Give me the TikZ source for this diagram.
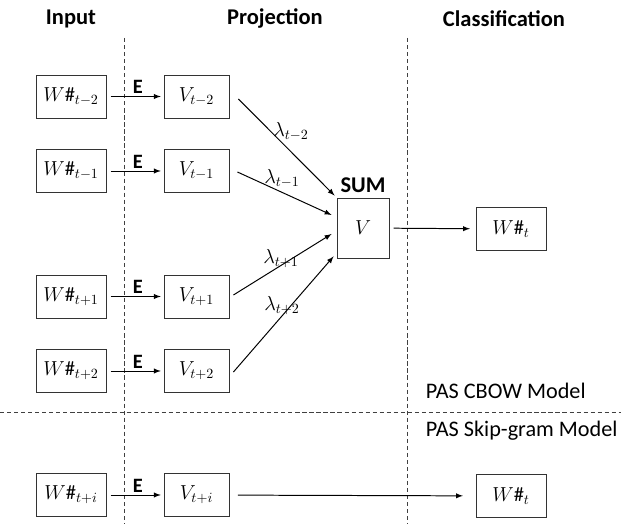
\documentclass[tikz,border=0pt]{standalone}
\usepackage{fontspec}
\setmainfont{Carlito}
\usetikzlibrary{arrows,calc,positioning}

\tikzset{
  box/.style={draw=black!80, line width=0.6pt, inner sep=0pt, minimum height=1.075cm,
    font=\fontsize{14.5}{17}\selectfont},
  wbox/.style={box, minimum width=1.75cm},
  vbox/.style={box, minimum width=1.625cm},
  sep/.style={black!75, line width=0.5pt, dash pattern=on 3pt off 2pt},
  flow/.style={-latex, line width=0.7pt},
  head/.style={font=\fontsize{16}{19}\selectfont\bfseries},
  elab/.style={font=\fontsize{14.5}{17}\selectfont\bfseries},
  lab/.style={font=\fontsize{15.8}{19}\selectfont},
  wt/.style={font=\fontsize{14.5}{17}\selectfont},
}

\begin{document}
\begin{tikzpicture}[x=0.025cm, y=-0.025cm]
\useasboundingbox (0,0) rectangle (621,524);

% column headings
\node[head] (hin) at (71,18.5) {Input};
\node[head] (hproj) at (275,18.5) {Projection};
\node[head] (hcls) at (504,18.5) {Classification};

% separators
\coordinate (s1t) at (124,38);
\coordinate (s1b) at (124,524);
\coordinate (s2t) at (407,38);
\coordinate (s2b) at (407,524);
\coordinate (hl) at (0,412);
\coordinate (hr) at (621,412);
\draw[sep] (s1t) -- (s1b);
\draw[sep] (s2t) -- (s2b);
\draw[sep] (hl) -- (hr);

% input words and projections
\foreach \n/\y/\s in {m2/96.5/t-2, m1/171/t-1, p1/296.5/t+1, p2/371/t+2, pi/495/t+i} {
  \node[wbox] (w\n) at (71,\y) {$W\#_{\s}$};
  \node[vbox] (v\n) at (196.5,\y) {$V_{\s}$};
  \draw[flow, shorten <=3pt, shorten >=2pt] (w\n) -- node[above, elab, inner sep=1.5pt, xshift=2pt] {E} (v\n);
}

% sum
\node[box, minimum width=1.3cm, minimum height=1.5cm] (sum) at (363,228) {$V$};
\node[head, above=0pt of sum] (sumlab) {SUM};

\draw[flow] ($(vm2.east)+(9,2.5)$) -- ($(sum.north west)+(-2,-2)$);
\draw[flow] ($(vm1.east)+(8,1)$) -- ($(sum.west)+(-5,-13)$);
\draw[flow] ($(vp1.east)+(4,-1.5)$) -- ($(sum.west)+(-5,6)$);
\draw[flow] ($(vp2.east)+(4,1)$) -- ($(sum.south west)+(-3,-2)$);

\node[wt] (lm2) at (291,132) {$\lambda_{t-2}$};
\node[wt] (lm1) at (282,179) {$\lambda_{t-1}$};
\node[wt] (lp1) at (281,259) {$\lambda_{t+1}$};
\node[wt] (lp2) at (282,306) {$\lambda_{t+2}$};

% classification
\node[box, minimum width=1.75cm] (out) at (511,229) {$W\#_t$};
\draw[flow, shorten <=3pt, shorten >=4pt] (sum) -- (out);

\node[lab, anchor=west] (cbow) at (421,391) {PAS CBOW Model};
\node[lab, anchor=west] (skip) at (421,431) {PAS Skip-gram Model};

% skip-gram row
\node[box, minimum width=1.75cm] (outs) at (511,496) {$W\#_t$};
\draw[flow, shorten <=6pt, shorten >=9pt] (vpi) -- (outs);

\end{tikzpicture}
\end{document}
